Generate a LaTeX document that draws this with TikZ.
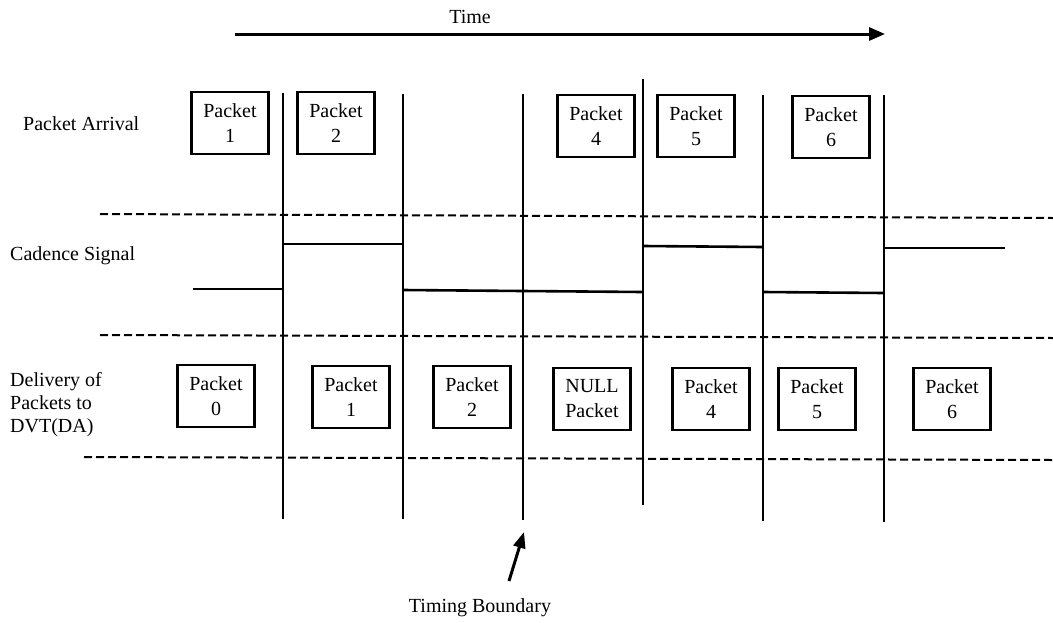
\documentclass[tikz,border=0pt]{standalone}
\usepackage{fontspec}
\setmainfont{Liberation Serif}
\usetikzlibrary{arrows.meta}
\begin{document}
\begin{tikzpicture}[x=1pt,y=-1pt,
  txt/.style={font=\fontsize{20}{23}\selectfont, inner sep=0pt},
  pbox/.style={draw, line width=2.5pt, minimum width=77pt, minimum height=62pt,
    inner sep=0pt, align=center, font=\fontsize{20}{25}\selectfont},
  bar/.style={line width=2pt},
  sig/.style={line width=2.6pt},
  sep/.style={line width=2pt, dash pattern=on 8pt off 4pt},
  arr/.style={line width=3pt, -{Triangle[length=16pt,width=13pt]}}]
\useasboundingbox (0,0) rectangle (1053,622);
% time arrow
\node[txt] (time) at (470,17) {Time};
\coordinate (t0) at (235,34);
\coordinate (t1) at (885,34);
\draw[arr] (t0) -- (t1);
% row labels
\node[txt, anchor=west] (arrival) at (23,124) {Packet Arrival};
\node[txt, anchor=west] (cadence) at (10,256) {Cadence Signal};
\node[txt, anchor=west, align=left] (delivery) at (10,405) {Delivery of\\Packets to\\DVT(DA)};
% separators
\draw[sep] (100,214) -- (1053,218);
\draw[sep] (100,335) -- (1053,338);
\draw[sep] (84,457) -- (1053,460);
% vertical boundaries
\draw[bar] (283,93) -- (283,519);
\draw[bar] (403,94) -- (403,519);
\draw[bar] (523,94) -- (523,520);
\draw[bar] (643,79) -- (643,505);
\draw[bar] (763,95) -- (763,521);
\draw[bar] (884,95) -- (884,522);
% cadence signal
\draw[sig] (193,289) -- (283,289);
\draw[sig] (283,244) -- (403,244);
\draw[sig] (403,290) -- (523,291);
\draw[sig] (523,291) -- (643,292);
\draw[sig] (643,246) -- (763,247);
\draw[sig] (763,292) -- (884,293);
\draw[sig] (884,248) -- (1005,248);
% packet arrival
\node[pbox] (a1) at (230,123) {Packet\\1};
\node[pbox] (a2) at (336,123) {Packet\\2};
\node[pbox] (a4) at (596,126) {Packet\\4};
\node[pbox] (a5) at (696,126) {Packet\\5};
\node[pbox] (a6) at (831,127) {Packet\\6};
% delivery
\node[pbox] (d0) at (216,396) {Packet\\0};
\node[pbox] (d1) at (351,397) {Packet\\1};
\node[pbox] (d2) at (472,397) {Packet\\2};
\node[pbox] (dn) at (592,399) {NULL\\Packet};
\node[pbox] (d4) at (711,399) {Packet\\4};
\node[pbox] (d5) at (817,399) {Packet\\5};
\node[pbox] (d6) at (952,399) {Packet\\6};
% timing boundary
\node[txt] (tb) at (480,608) {Timing Boundary};
\coordinate (tbtail) at (509,581);
\coordinate (tbtip) at (524,532);
\draw[line width=3pt, -{Triangle[length=16pt,width=12pt]}] (tbtail) -- (tbtip);
\end{tikzpicture}
\end{document}
